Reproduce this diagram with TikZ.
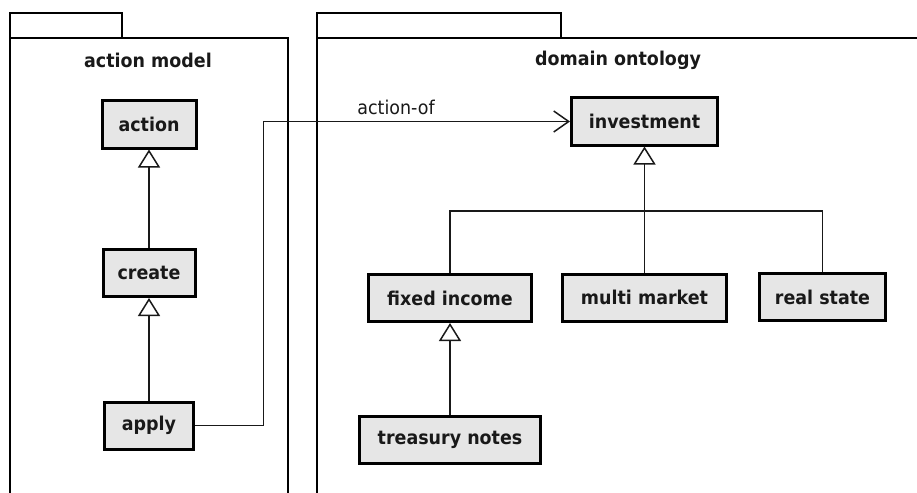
\documentclass[tikz,border=0pt]{standalone}
\usepackage{fontspec}
\setmainfont{DejaVu Sans}[FakeStretch=0.92]
\usetikzlibrary{arrows.meta}
\definecolor{boxgray}{RGB}{230,230,230}
\definecolor{inkgray}{RGB}{25,25,25}
\tikzset{
  classbox/.style={draw=black, fill=boxgray, line width=3pt, minimum height=47pt,
                   inner sep=0pt, font=\fontsize{19}{22}\selectfont\bfseries, text=inkgray},
  pkgline/.style={draw=black, line width=2.6pt},
  pkgtitle/.style={font=\fontsize{19}{22}\selectfont\bfseries, text=inkgray},
  gen/.style={draw=inkgray, line width=1.5pt, -{Triangle[open, width=22pt, length=18pt, line width=1.5pt]}},
  link/.style={draw=inkgray, line width=1.5pt},
  assoc/.style={draw=inkgray, line width=1.5pt, -{Straight Barb[width=21pt, length=15pt, line width=1.5pt]}}
}
\begin{document}
\begin{tikzpicture}[x=1pt, y=-1pt]
  \useasboundingbox (0,0) rectangle (917,492);
  \draw [pkgline] (10,13) rectangle (122,38);
  \draw [pkgline] (10,500) -- (10,38) -- (288,38) -- (288,500);
  \node [pkgtitle] (actiontitle) at (148,60) {action model};
  \draw [pkgline] (317,13) rectangle (561,38);
  \draw [pkgline] (317,500) -- (317,38) -- (925,38);
  \node [pkgtitle] (ontotitle) at (618,60) {domain ontology};

  \node [classbox, minimum width=94pt] (action) at (149,124.5) {action};
  \node [classbox, minimum width=92pt] (create) at (149,273) {create};
  \node [classbox, minimum width=89pt] (apply) at (149,425.5) {apply};
  \node [classbox, minimum width=146pt] (invest) at (644.5,121.5) {investment};
  \node [classbox, minimum width=163pt] (fixed) at (450,298) {fixed income};
  \node [classbox, minimum width=164pt] (multi) at (644.5,297.5) {multi market};
  \node [classbox, minimum width=126pt] (realstate) at (822.5,297) {real state};
  \node [classbox, minimum width=181pt] (treasury) at (450,440) {treasury notes};

  \draw [gen] (create) -- (action);
  \draw [gen] (apply) -- (create);
  \draw [gen] (treasury) -- (fixed);
  \draw [gen] (multi) -- (invest);
  \coordinate (bus) at (644.5,211);
  \draw [link] (fixed.north) |- (bus) -| (realstate.north);

  \coordinate (turn) at (263.5,300);
  \draw [assoc] (apply.east) -| (turn) |- (invest.west);
  \node [font=\fontsize{19}{22}\selectfont, text=inkgray] (actionof) at (396,107) {action-of};
\end{tikzpicture}
\end{document}
